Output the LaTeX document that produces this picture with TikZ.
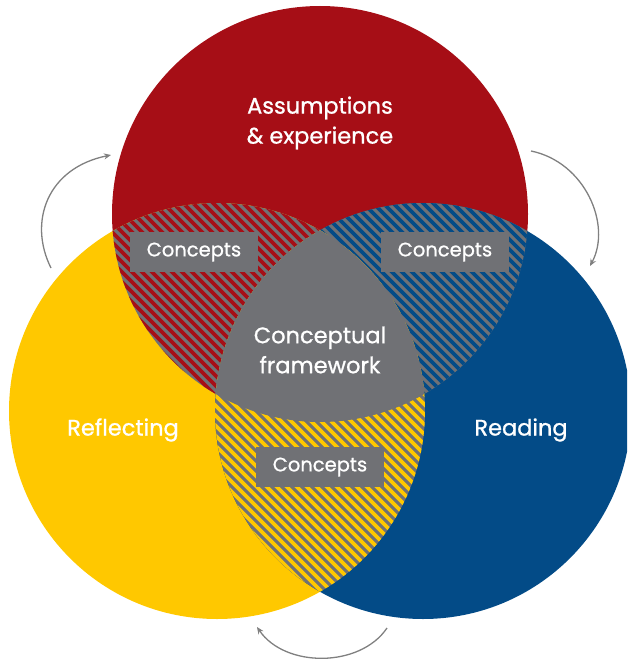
\documentclass[tikz,border=0pt]{standalone}
\usepackage{fontspec}
\setmainfont{Poppins}[BoldFont=Poppins, BoldFeatures={FakeBold=0.9}]
\usetikzlibrary{arrows.meta}
\definecolor{cred}{HTML}{A60E16}
\definecolor{cyellow}{HTML}{FFC800}
\definecolor{cblue}{HTML}{034B87}
\definecolor{cgray}{HTML}{707175}
\definecolor{carrow}{HTML}{808080}
% diagonal stripes filling the current clip region
\newcommand\stripefill[1]{%
  \foreach \i in {-700,-690,...,700}
    \draw[#1, line width=3.8pt] (\i,0) -- (\i+700,700);}
\begin{document}
\begin{tikzpicture}[x=1pt,y=-1pt,
  label/.style={text=white, align=center, font=\bfseries\fontsize{22.5}{30}\selectfont},
  conceptbox/.style={fill=cgray, text=white, minimum width=128pt, minimum height=40pt,
    inner sep=0pt, font=\bfseries\fontsize{19.5}{22}\selectfont},
  cycle arrow/.style={draw=carrow, line width=1.3pt, -{Stealth[length=7pt,width=6pt]}}]
\useasboundingbox (0,0) rectangle (627,661);
\coordinate (cR) at (320,214);
\coordinate (cY) at (217,411);
\coordinate (cB) at (423,411);
\begin{scope}
  \clip (0,0) rectangle (627,661);
  \fill[cred] (cR) circle[radius=208pt];
  \fill[cyellow] (cY) circle[radius=208pt];
  \fill[cblue] (cB) circle[radius=208pt];
  % red / yellow overlap
  \begin{scope}
    \clip (cR) circle[radius=208pt];
    \clip (cY) circle[radius=208pt];
    \fill[cgray] (0,0) rectangle (627,661);
    \stripefill{cred}
  \end{scope}
  % red / blue overlap
  \begin{scope}
    \clip (cR) circle[radius=208pt];
    \clip (cB) circle[radius=208pt];
    \fill[cgray] (0,0) rectangle (627,661);
    \stripefill{cblue}
  \end{scope}
  % yellow / blue overlap
  \begin{scope}
    \clip (cY) circle[radius=208pt];
    \clip (cB) circle[radius=208pt];
    \fill[cgray] (0,0) rectangle (627,661);
    \stripefill{cyellow}
  \end{scope}
  % common centre
  \begin{scope}
    \clip (cR) circle[radius=208pt];
    \clip (cY) circle[radius=208pt];
    \fill[cgray] (cB) circle[radius=208pt];
  \end{scope}
\end{scope}

\node[label] (assump) at (320,123) {Assumptions\\\& experience};
\node[label] (reflect) at (123,430) {Reflecting};
\node[label] (read) at (521,430) {Reading};
\node[label] (frame) at (320,350) {Conceptual\\framework};

\node[conceptbox] (c1) at (194,252) {\raisebox{-1.5pt}{Concepts}};
\node[conceptbox] (c2) at (445,252) {\raisebox{-1.5pt}{Concepts}};
\node[conceptbox] (c3) at (320,467) {\raisebox{-1.5pt}{Concepts}};

\coordinate (a1s) at (51,268);  \coordinate (a1e) at (111,155);
\coordinate (a2s) at (531,151); \coordinate (a2e) at (590,266);
\coordinate (a3s) at (387,628); \coordinate (a3e) at (257,627);
\draw[cycle arrow] (a1s) .. controls (28,222) and (47,168) .. (a1e);
\draw[cycle arrow] (a2s) .. controls (585,162) and (612,225) .. (a2e);
\draw[cycle arrow] (a3s) .. controls (360,668) and (285,668) .. (a3e);
\end{tikzpicture}
\end{document}
